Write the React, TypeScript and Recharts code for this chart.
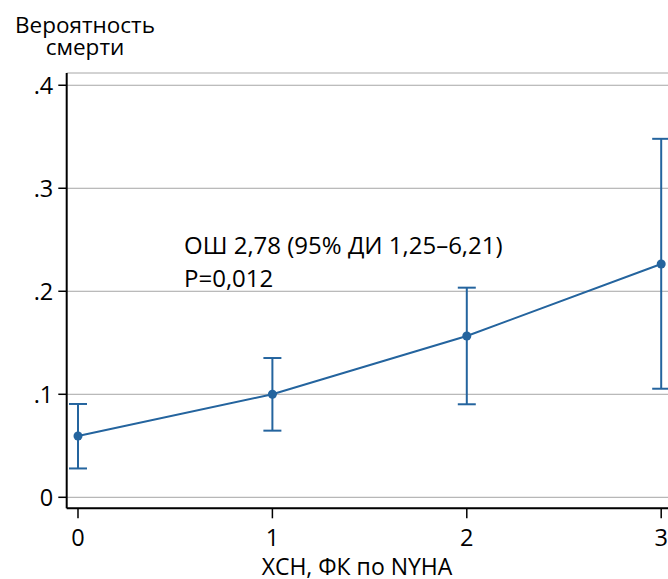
import { LineChart, Line, XAxis, YAxis, CartesianGrid, ErrorBar } from "recharts";

const nyhaClass = [0, 1, 2, 3];
const deathProb = [0.0595, 0.1, 0.1566, 0.2265];
const ciLow = [0.028, 0.0647, 0.0903, 0.1054];
const ciHigh = [0.0906, 0.1352, 0.2035, 0.348];
const yTicks = [0, 0.1, 0.2, 0.3, 0.4];
const xTicks = [0, 1, 2, 3];

const BLUE = "#24649e";
const FONT = "'Open Sans', sans-serif";

const data = nyhaClass.map((x, i) => ({
  x,
  p: deathProb[i],
  err: [deathProb[i] - ciLow[i], ciHigh[i] - deathProb[i]],
}));

const fmtY = (v: number) => (v === 0 ? "0" : String(v).replace(/^0/, ""));

export default function App() {
  return (
    <div
      style={{
        position: "fixed",
        left: 0,
        top: 0,
        width: 668,
        height: 579,
        overflow: "hidden",
        background: "#fff",
      }}
    >
      <LineChart
        width={668}
        height={579}
        data={data}
        margin={{ top: 73, right: 0, bottom: 30.7, left: 0 }}
      >
        <CartesianGrid vertical={false} stroke="#a6a6a6" strokeWidth={1} />
        <XAxis
          dataKey="x"
          type="number"
          domain={[-0.0581, 3.035]}
          ticks={xTicks}
          interval={0}
          height={40}
          allowDataOverflow
          tickSize={10}
          tickMargin={11}
          tick={{ fill: "#000", fontSize: 23.5, fontFamily: FONT }}
          tickLine={{ stroke: "#000", strokeWidth: 1.5 }}
          axisLine={{ stroke: "#000", strokeWidth: 2 }}
        />
        <YAxis
          type="number"
          domain={[-0.01068, 0.4119]}
          ticks={yTicks}
          interval={0}
          width={66.7}
          allowDataOverflow
          tickFormatter={fmtY}
          tickSize={8.4}
          tickMargin={5}
          tick={{ fill: "#000", fontSize: 23.5, fontFamily: FONT }}
          tickLine={{ stroke: "#000", strokeWidth: 1.5 }}
          axisLine={{ stroke: "#000", strokeWidth: 2 }}
        />
        <Line
          dataKey="p"
          type="linear"
          stroke={BLUE}
          strokeWidth={2}
          dot={{ r: 4.5, fill: BLUE, stroke: BLUE, strokeWidth: 0 }}
          activeDot={false}
          isAnimationActive={false}
        >
          <ErrorBar
            dataKey="err"
            direction="y"
            width={9}
            stroke={BLUE}
            strokeWidth={2}
            isAnimationActive={false}
          />
        </Line>
      </LineChart>
      <svg
        width={668}
        height={579}
        style={{ position: "absolute", left: 0, top: 0, pointerEvents: "none" }}
        fontFamily={FONT}
      >
        <text x={85} y={33} fontSize={22.5} textAnchor="middle" fill="#000">
          Вероятность
        </text>
        <text x={85} y={55} fontSize={22.5} textAnchor="middle" fill="#000">
          смерти
        </text>
        <text x={184} y={253.5} fontSize={24} fill="#000">
          ОШ 2,78 (95% ДИ 1,25–6,21)
        </text>
        <text x={184} y={286.5} fontSize={24} fill="#000">
          P=0,012
        </text>
        <text x={357} y={574.5} fontSize={23} textAnchor="middle" fill="#000">
          ХСН, ФК по NYHA
        </text>
      </svg>
    </div>
  );
}
